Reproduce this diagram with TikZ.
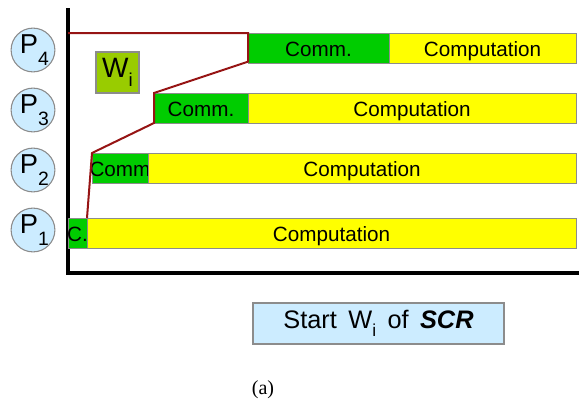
\documentclass[tikz,border=0pt]{standalone}
\usepackage{fontspec}
\setmainfont{Liberation Sans}
\newfontfamily\serifcap{Liberation Serif}
\definecolor{barY}{RGB}{255,255,0}
\definecolor{barG}{RGB}{0,204,0}
\definecolor{olive}{RGB}{153,204,0}
\definecolor{lblue}{RGB}{204,236,255}
\definecolor{dred}{RGB}{150,20,20}
\definecolor{edge}{RGB}{140,140,140}
\newcommand{\psub}[1]{\raisebox{-0.42em}{\fontsize{14.5}{15}\selectfont #1}}
\begin{document}
\begin{tikzpicture}[x=0.75pt,y=-0.75pt,
  every node/.style={inner sep=0pt,outer sep=0pt},
  barlabel/.style={font=\fontsize{15.5}{16}\selectfont,text height=14pt,text depth=0.6pt},
  ybar/.style={barlabel,draw=edge,line width=0.6pt,fill=barY,minimum height=22.5pt,anchor=west},
  gbar/.style={barlabel,draw=edge,line width=0.6pt,fill=barG,minimum height=22.5pt,anchor=west},
  proc/.style={circle,draw=edge,line width=0.8pt,fill=lblue,minimum size=32.5pt,font=\fontsize{20.5}{21}\selectfont},
  redline/.style={draw=dred,line width=1.5pt,line join=miter}]
\useasboundingbox (0,0) rectangle (579,404);
% axes
\draw[line width=2.3pt,black] (68,8) -- (68,273) -- (579,273);
% process circles
\node[proc] (p4) at (33,50) {\hspace{2pt}P\psub{4}};
\node[proc] (p3) at (33,110) {\hspace{2pt}P\psub{3}};
\node[proc] (p2) at (33,170) {\hspace{2pt}P\psub{2}};
\node[proc] (p1) at (33,230) {\hspace{2pt}P\psub{1}};
% bars P4
\node[gbar,minimum width=105.75pt] (g4) at (248,48) {Comm.};
\node[ybar,minimum width=140.25pt] (y4) at (389,48) {Computation};
% bars P3
\node[gbar,minimum width=70.5pt] (g3) at (154,108) {Comm.};
\node[ybar,minimum width=246pt] (y3) at (248,108) {Computation};
% bars P2
\node[gbar,minimum width=42pt] (g2) at (92,168) {};
\node[barlabel] at (g2.center) {Comm};
\node[ybar,minimum width=321pt] (y2) at (148,168) {Computation};
% bars P1
\node[gbar,minimum width=14.25pt] (g1) at (68,233) {};
\node[barlabel] at (g1.center) {C.};
\node[ybar,minimum width=366.75pt] (y1) at (87,233) {Computation};
% W_i box
\node[draw=edge,line width=0.8pt,fill=olive,minimum width=32.25pt,minimum height=30.75pt,font=\fontsize{21}{22}\selectfont] (w) at (117.5,72.5) {W\raisebox{-0.3em}{\fontsize{14}{15}\selectfont i}};
% red line
\coordinate (r0) at (68,33);
\draw[redline] (r0) -- (g4.north west) -- ([yshift=1pt]g4.south west) -- (g3.north west) -- (g3.south west) -- (g2.north west) -- (g1.north east);
% start box
\node[draw=edge,line width=0.8pt,fill=lblue,minimum width=188.25pt,minimum height=30.75pt,font=\fontsize{19}{20}\selectfont] (s) at (378.5,323.5) {Start\hspace{0.45em}W\raisebox{-0.3em}{\fontsize{13}{13}\selectfont i}\hspace{0.45em}of\hspace{0.45em}\textbf{\textit{SCR}}};
% caption
\node[font=\serifcap\fontsize{15}{16}\selectfont] (cap) at (263,390) {(a)};
\end{tikzpicture}
\end{document}
